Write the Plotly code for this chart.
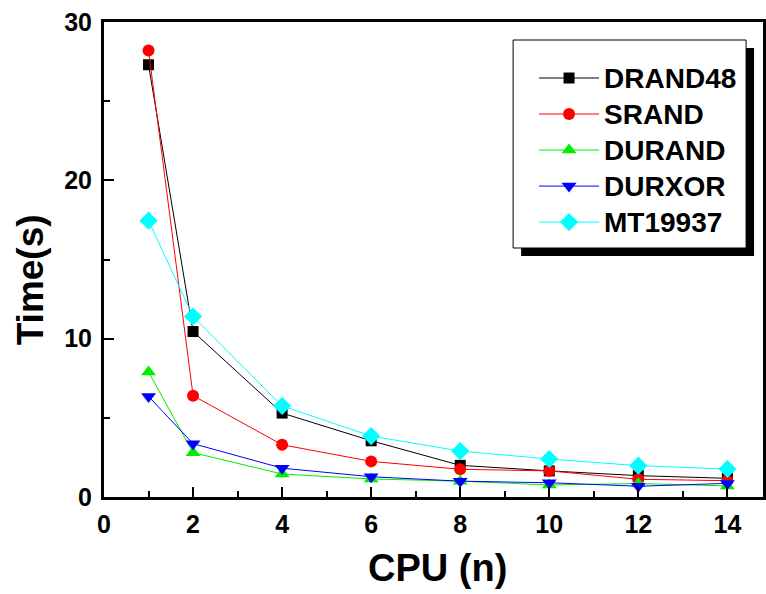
import plotly.graph_objects as go

# CPU counts and run times (s) for each random number generator
cpus = [1, 2, 4, 6, 8, 10, 12, 14]
drand48 = [27.3, 10.45, 5.3, 3.55, 2.0, 1.65, 1.35, 1.18]
srand = [28.2, 6.4, 3.3, 2.25, 1.75, 1.65, 1.12, 1.03]
durand = [7.9, 2.8, 1.45, 1.14, 1.0, 0.76, 0.85, 0.7]
durxor = [6.35, 3.37, 1.82, 1.28, 1.0, 0.9, 0.68, 0.86]
mt19937 = [17.45, 11.4, 5.75, 3.85, 2.9, 2.4, 1.98, 1.77]

x_ticks = [0, 2, 4, 6, 8, 10, 12, 14]
y_ticks = [0, 10, 20, 30]

series = [
    ("DRAND48", drand48, "#000000", "square", 11),
    ("SRAND", srand, "#ff0000", "circle", 12),
    ("DURAND", durand, "#00ee00", "triangle-up", 13),
    ("DURXOR", durxor, "#0000ff", "triangle-down", 13),
    ("MT19937", mt19937, "#00ffff", "diamond", 14),
]

FONT = "Liberation Sans, Arial, sans-serif"

fig = go.Figure()
for name, vals, color, symbol, size in series:
    fig.add_trace(go.Scatter(
        x=cpus, y=vals, mode="lines+markers",
        # larger glyphs than the row height the legend reserves
        name=f'<span style="font-size:28px">{name}</span>',
        line=dict(color=color, width=1),
        marker=dict(symbol=symbol, size=size, color=color, line=dict(width=0)),
    ))

W, H = 766, 594
L, R, T, B = 104, 0, 22, 97
pw, ph = W - L - R, H - T - B


def px_x(v):
    return (v - L) / pw


def px_y(v):
    return (H - B - v) / ph


# legend frame with drop shadow
shapes = [
    dict(type="rect", xref="paper", yref="paper", layer="below",
         x0=px_x(523), x1=px_x(757), y0=px_y(256), y1=px_y(48),
         fillcolor="black", line=dict(width=0)),
    dict(type="rect", xref="paper", yref="paper", layer="below",
         x0=px_x(515), x1=px_x(749), y0=px_y(248), y1=px_y(40),
         fillcolor="white", line=dict(color="black", width=1)),
]

annotations = [
    dict(text="<b>Time(s)</b>", xref="paper", yref="paper",
         x=px_x(30), y=px_y(280), xanchor="center", yanchor="middle",
         textangle=-90, showarrow=False,
         font=dict(family=FONT, size=37, color="black")),
    dict(text="<b>CPU (n)</b>", xref="paper", yref="paper",
         x=px_x(439), y=px_y(568), xanchor="center", yanchor="middle",
         showarrow=False, font=dict(family=FONT, size=38, color="black")),
]

axis_common = dict(
    showline=True, linecolor="black", linewidth=3, mirror=True,
    ticks="inside", ticklen=10, tickwidth=2, tickcolor="black",
    showgrid=False, zeroline=False,
    tickfont=dict(family=FONT, size=25, color="black", weight="bold"),
)

fig.update_layout(
    width=W, height=H,
    margin=dict(l=L, r=R, t=T, b=B),
    paper_bgcolor="white", plot_bgcolor="white",
    shapes=shapes,
    annotations=annotations,
    showlegend=True,
    legend=dict(
        x=px_x(536), y=px_y(55), xanchor="left", yanchor="top",
        bgcolor="rgba(0,0,0,0)", borderwidth=0,
        font=dict(family=FONT, size=25.4, color="black", weight="bold"),
        tracegroupgap=0, itemwidth=60,
    ),
    xaxis=dict(
        **axis_common,
        range=[0, 14.8], tickvals=x_ticks,
        ticktext=[f"<b>{v}</b>" for v in x_ticks], ticklabelstandoff=3,
        minor=dict(ticks="inside", ticklen=6, tickwidth=2, tickcolor="black",
                   tickvals=[1, 3, 5, 7, 9, 11, 13]),
    ),
    yaxis=dict(
        **axis_common,
        range=[0, 30], tickvals=y_ticks,
        ticktext=[f"<b>{v}</b>" for v in y_ticks], ticklabelstandoff=4,
        minor=dict(ticks="inside", ticklen=6, tickwidth=2, tickcolor="black",
                   tickvals=[5, 15, 25]),
    ),
)

fig.write_html("out.html")
